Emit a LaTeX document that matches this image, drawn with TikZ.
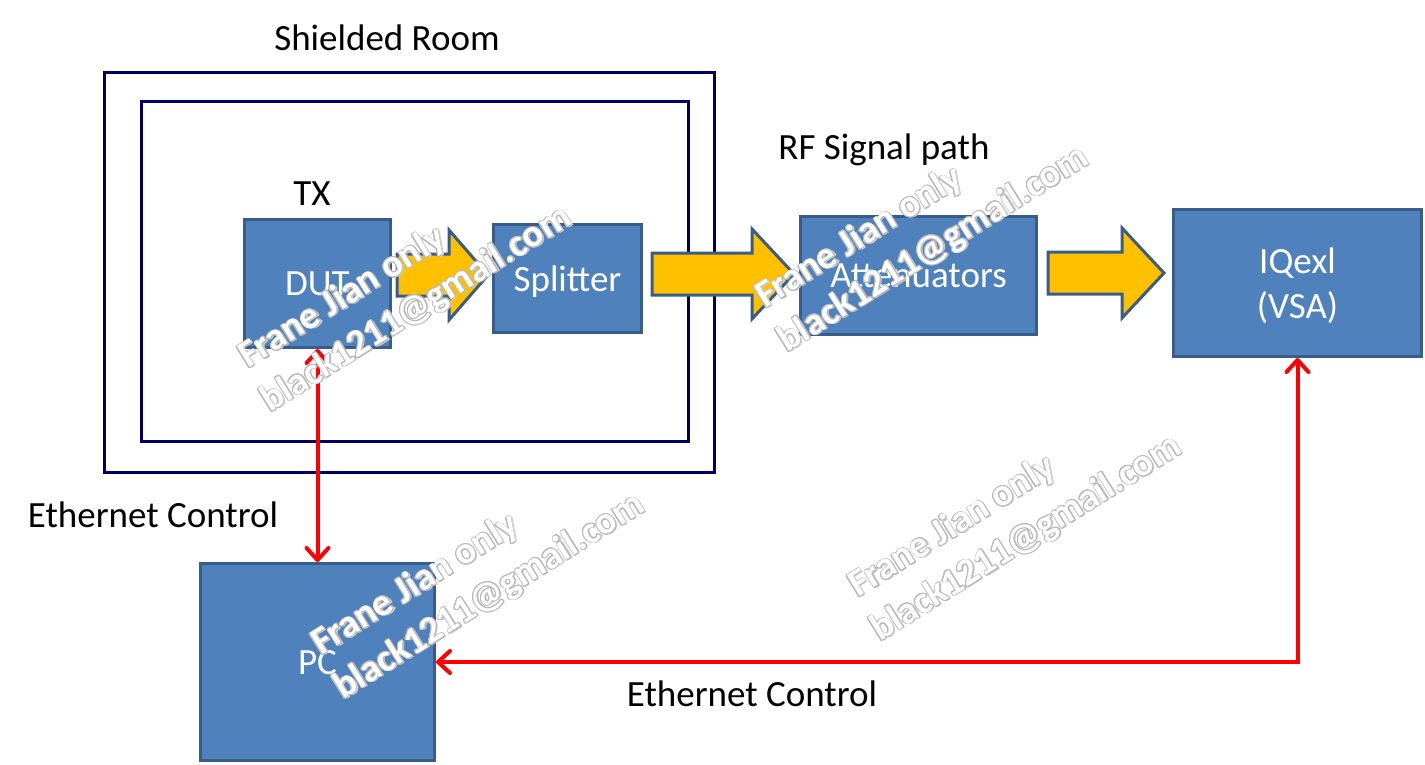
\documentclass[tikz,border=0pt]{standalone}
\usepackage{fontspec}
\setmainfont{Carlito}
\usepackage[copies]{contour}
\contourlength{0.8pt}
\usetikzlibrary{arrows.meta}
\definecolor{boxfill}{HTML}{4F81BD}
\definecolor{boxline}{HTML}{385D8A}
\definecolor{yel}{HTML}{FFC000}
\definecolor{roomblue}{HTML}{000066}
\definecolor{ctrlred}{HTML}{FF0000}
\newcommand\yarrow[4]{%
  \draw[yarr] (#1,#4-21) -- (#2,#4-21) -- (#2,#4-45) -- (#3,#4) -- (#2,#4+45) -- (#2,#4+21) -- (#1,#4+21) -- cycle;}
\newcommand\wmark[3]{% name, x, y  (baseline start of the e-mail line)
  \node[wm, text=gray!35, xshift=1.5pt, yshift=-1.5pt] (#1bs) at (#2,#3) {black1211@gmail.com};
  \node[wm, text=white] (#1b) at (#2,#3) {\contour{gray!55}{black1211@gmail.com}};
  \node[wm, text=gray!35, xshift=1.5pt, yshift=-1.5pt] (#1as) at (#2-22,#3-44) {Frane Jian only};
  \node[wm, text=white] (#1a) at (#2-22,#3-44) {\contour{gray!55}{Frane Jian only}};}
\begin{document}
\begin{tikzpicture}[x=1pt,y=-1pt,
  big/.style={font=\fontsize{37}{45}\selectfont},
  blk/.style={draw=boxline, fill=boxfill, line width=3pt, text=white, big, inner sep=0pt, align=center, text depth=0pt},
  room/.style={draw=roomblue, line width=3pt, inner sep=0pt},
  lbl/.style={big, text=black, inner sep=0pt, anchor=base},
  yarr/.style={draw=boxline, fill=yel, line width=3pt, line join=miter},
  ctrl/.style={draw=ctrlred, line width=4pt, {Straight Barb[length=12pt,width=22pt,round]}-{Straight Barb[length=12pt,width=22pt,round]}},
  wm/.style={font=\fontsize{38}{45}\selectfont\bfseries, inner sep=0pt, anchor=base west, rotate=32},
]
\useasboundingbox (0,0) rectangle (1425,765);
\fill[white] (0,0) rectangle (1425,765);

% shielded room
\node[room, minimum width=610pt, minimum height=399pt] (outer) at (409,272.5) {};
\node[room, minimum width=547pt, minimum height=339pt] (inner) at (414.5,271.5) {};

% labels
\node[lbl] (roomlbl) at (387,51) {Shielded Room};
\node[lbl] (tx) at (312,205) {TX};
\node[lbl] (rf) at (884,160) {RF Signal path};
\node[lbl] (eth1) at (153,527) {Ethernet Control};
\node[lbl] (eth2) at (752,706) {Ethernet Control};

% blocks
\node[blk, minimum width=146pt, minimum height=128pt] (DUT) at (317.5,283.5) {DUT};
\node[blk, minimum width=148pt, minimum height=108pt] (SPL) at (567.5,278.5) {Splitter};
\node[blk, minimum width=236pt, minimum height=118pt] (ATT) at (918.5,275.5) {Attenuators};
\node[blk, minimum width=248pt, minimum height=147pt] (IQ) at (1297.5,283) {IQexl\\(VSA)};
\node[blk, minimum width=234pt, minimum height=197pt] (PC) at (317.5,662) {PC};

% RF signal arrows
\yarrow{397}{449}{488}{275}
\yarrow{652}{752}{794}{274}
\yarrow{1048}{1122}{1164}{273}

% ethernet control
\draw[ctrl] (DUT.south) -- (PC.north);
\draw[ctrl] (IQ.south) |- (PC.east);

% watermarks
\wmark{wa}{270}{413}
\wmark{wb}{787}{353}
\wmark{wc}{343}{700}
\wmark{wd}{880}{642}
\end{tikzpicture}
\end{document}
